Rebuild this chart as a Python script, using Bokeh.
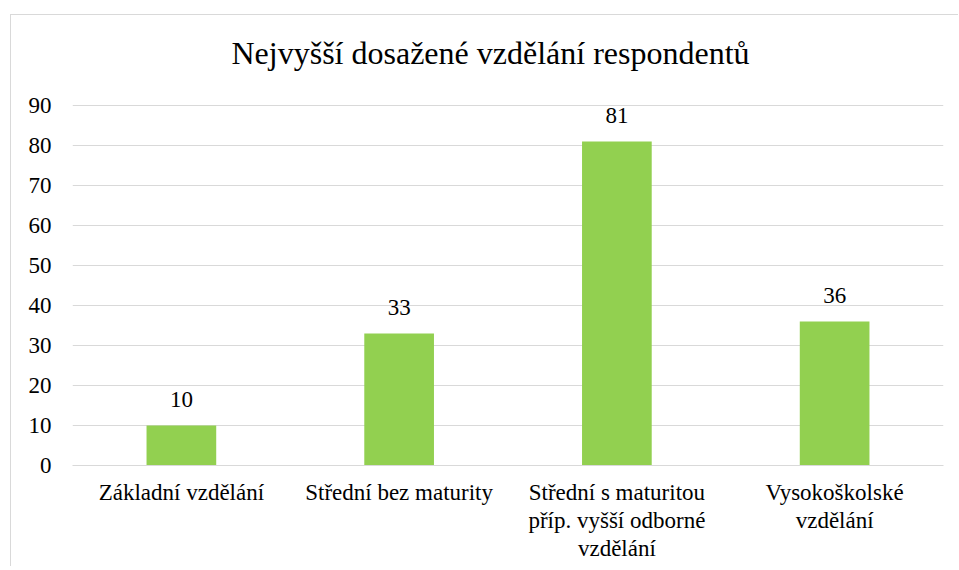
from bokeh.plotting import figure
from bokeh.models import ColumnDataSource, Range1d, FixedTicker, LinearAxis, InlineStyleSheet
from bokeh.core.properties import value
from bokeh.embed import file_html
from bokeh.resources import INLINE

categories = ["Základní vzdělání", "Střední bez maturity",
              "Střední s maturitou příp. vyšší odborné vzdělání", "Vysokoškolské vzdělání"]
tick_lines = [["Základní vzdělání"], ["Střední bez maturity"],
              ["Střední s maturitou", "příp. vyšší odborné", "vzdělání"], ["Vysokoškolské", "vzdělání"]]
counts = [10, 33, 81, 36]
y_ticks = [0, 10, 20, 30, 40, 50, 60, 70, 80, 90]
title_text = "Nejvyšší dosažené vzdělání respondentů"

FONT = "Liberation Serif"
GRID = "#d9d9d9"

xs = [i + 1 for i in range(len(categories))]
source = ColumnDataSource(dict(x=xs, val=counts, lbl=[str(v) for v in counts]))

# y range extends a little above the top tick (white space between title and plot)
p = figure(x_range=Range1d(0.5, len(categories) + 0.5), y_range=Range1d(0, 97.5),
           width=948, height=552, output_backend="svg", toolbar_location=None,
           min_border_left=61, min_border_right=16, min_border_top=60, min_border_bottom=102,
           margin=(14, 0, 0, 10))
p.styles = {"border-left": "1px solid #d9d9d9", "border-top": "1px solid #d9d9d9",
            "font-family": "'Liberation Serif', serif"}
p.stylesheets = [InlineStyleSheet(css="text { font-family: 'Liberation Serif', serif !important; }")]

p.title.text = title_text
p.title.align = "left"
p.title.offset = 159
p.title.text_font = FONT
p.title.text_font_size = "32px"
p.title.text_font_style = "normal"
p.title.text_color = "#000000"
p.title.standoff = 10

p.vbar(x="x", top="val", width=0.32, source=source, color="#92D050", line_color=None)
p.text(x="x", y="val", text="lbl", source=source, text_align="center",
       text_baseline="alphabetic", y_offset=-26, text_font=value(FONT),
       text_font_size="23px", text_color="#000000")

p.outline_line_color = None
p.xgrid.grid_line_color = None
p.ygrid.grid_line_color = GRID
p.ygrid.grid_line_width = 1

p.yaxis.ticker = FixedTicker(ticks=y_ticks, minor_ticks=[])
p.yaxis.axis_line_color = None
p.yaxis.major_tick_line_color = None
p.yaxis.minor_tick_line_color = None
p.yaxis.major_label_text_font = FONT
p.yaxis.major_label_text_font_size = "23px"
p.yaxis.major_label_text_color = "#000000"
p.yaxis.major_label_standoff = 15


def style_xaxis(ax, line_idx, standoff):
    ticks = [x for x, lines in zip(xs, tick_lines) if len(lines) > line_idx]
    ax.ticker = FixedTicker(ticks=ticks, minor_ticks=[])
    ax.major_label_overrides = {x: lines[line_idx] for x, lines in zip(xs, tick_lines)
                                if len(lines) > line_idx}
    ax.major_tick_line_color = None
    ax.minor_tick_line_color = None
    ax.major_tick_in = 0
    ax.major_tick_out = 0
    ax.minor_tick_in = 0
    ax.minor_tick_out = 0
    ax.major_label_text_font = FONT
    ax.major_label_text_font_size = "23px"
    ax.major_label_text_color = "#000000"
    ax.major_label_standoff = standoff


xa = p.xaxis[0]
xa.axis_line_color = GRID
style_xaxis(xa, 0, 14)

for k in (1, 2):
    ax = LinearAxis(axis_line_color=None)
    style_xaxis(ax, k, 0)
    p.add_layout(ax, "below")

open("out.html", "w").write(file_html(p, INLINE))
